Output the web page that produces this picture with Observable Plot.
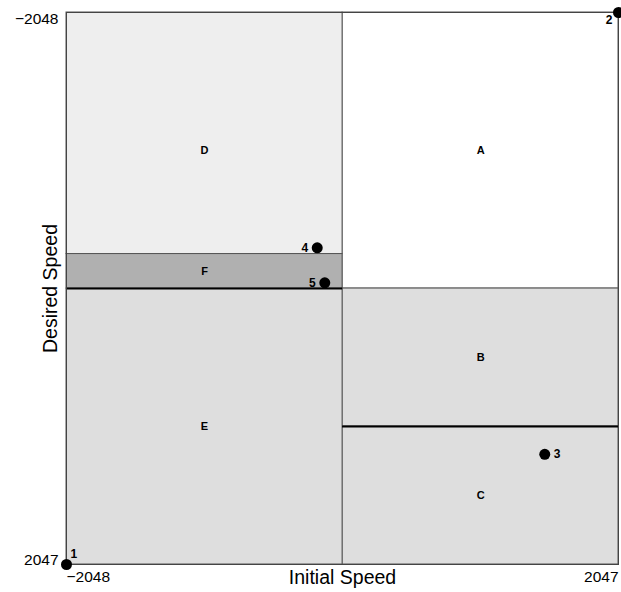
<!DOCTYPE html>
<html>
<head>
<meta charset="utf-8">
<script src="https://cdn.jsdelivr.net/npm/d3@7"></script>
<script src="https://cdn.jsdelivr.net/npm/@observablehq/plot@0.6"></script>
<style>
  html, body { margin: 0; padding: 0; background: #fff; }
</style>
</head>
<body>
<div id="chart"></div>
<script>
// Axis extents / tick labels
const xTicks = [-2048, 2047];
const yTicks = [-2048, 2047];

// Regions
const regionNames = ["A", "B", "C", "D", "E", "F"];
const regionX1 = [0, 0, 0, -2048, -2048, -2048];
const regionX2 = [2047, 2047, 2047, 0, 0, 0];
const regionY1 = [-2048, 0, 1024, -2048, 0, -256];
const regionY2 = [0, 1024, 2047, -256, 2047, 0];
const regionShade = ["none", "mid", "mid", "light", "mid", "dark"];
const regionLabelX = [1024, 1024, 1024, -1024, -1024, -1024];
const regionLabelY = [-1024, 512, 1536, -1024, 1024, -128];

// Heavy boundaries
const heavyY = [0, 1024];
const heavyX1 = [-2048, 0];
const heavyX2 = [0, 2047];

// Points
const pointIds = ["1", "2", "3", "4", "5"];
const pointX = [-2048, 2047, 1500, -188, -132];
const pointY = [2047, -2048, 1230, -302, -43];

const regions = regionNames.map((n, i) => ({
  name: n, x1: regionX1[i], x2: regionX2[i], y1: regionY1[i], y2: regionY2[i],
  shade: regionShade[i], lx: regionLabelX[i], ly: regionLabelY[i]
}));
const heavy = heavyY.map((y, i) => ({ y, x1: heavyX1[i], x2: heavyX2[i] }));
const points = pointIds.map((id, i) => ({ id, x: pointX[i], y: pointY[i] }));

const fmt = d => d < 0 ? "\u2212" + Math.abs(d) : String(d);
const font = "'Liberation Sans', Arial, Helvetica, sans-serif";

const chart = Plot.plot({
  width: 621,
  height: 592,
  marginLeft: 66,
  marginRight: 3,
  marginTop: 12,
  marginBottom: 28,
  style: { fontFamily: font, background: "#fff", color: "#000" },
  x: { domain: [-2048, 2047], axis: null },
  y: { domain: [-2048, 2047], reverse: true, axis: null },
  color: {
    domain: ["none", "mid", "light", "dark"],
    range: ["#ffffff", "#dedede", "#eeeeee", "#b0b0b0"]
  },
  marks: [
    Plot.rect(regions, { x1: "x1", x2: "x2", y1: "y1", y2: "y2", fill: "shade", stroke: "#555", strokeWidth: 1 }),
    Plot.ruleY(heavy, { y: "y", x1: "x1", x2: "x2", stroke: "#000", strokeWidth: 2 }),
    Plot.frame({ stroke: "#444", strokeWidth: 1 }),
    Plot.text(regions, { x: "lx", y: "ly", text: "name", fontSize: 11, fontWeight: "bold", fill: "#000" }),
    Plot.dot(points, { x: "x", y: "y", r: 5.5, fill: "#000" }),
    Plot.text(points.filter(p => p.id === "1"), { x: "x", y: "y", text: "id", dx: 4, dy: -10, textAnchor: "start", fontSize: 12, fontWeight: "bold" }),
    Plot.text(points.filter(p => p.id === "2"), { x: "x", y: "y", text: "id", dx: -6, dy: 8, textAnchor: "end", fontSize: 12, fontWeight: "bold" }),
    Plot.text(points.filter(p => p.id === "3"), { x: "x", y: "y", text: "id", dx: 9, textAnchor: "start", fontSize: 12, fontWeight: "bold" }),
    Plot.text(points.filter(p => p.id === "4" || p.id === "5"), { x: "x", y: "y", text: "id", dx: -9, textAnchor: "end", fontSize: 12, fontWeight: "bold" }),
    // x tick labels
    Plot.text([xTicks[0]], { x: d => d, text: fmt, frameAnchor: "bottom", dy: 17, textAnchor: "start", fontSize: 15.5 }),
    Plot.text([xTicks[1]], { x: d => d, text: fmt, frameAnchor: "bottom", dy: 17, textAnchor: "end", fontSize: 15.5 }),
    // y tick labels
    Plot.text([yTicks[0]], { y: d => d, text: fmt, frameAnchor: "left", dx: -8, textAnchor: "end", lineAnchor: "top", fontSize: 15.5 }),
    Plot.text([yTicks[1]], { y: d => d, text: fmt, frameAnchor: "left", dx: -8, textAnchor: "end", lineAnchor: "bottom", fontSize: 15.5 }),
    // axis titles
    Plot.text(["Initial Speed"], { text: d => d, frameAnchor: "bottom", dy: 19, textAnchor: "middle", fontSize: 19.5 }),
    Plot.text(["Desired Speed"], { text: d => d, frameAnchor: "left", dx: -16, rotate: -90, textAnchor: "middle", fontSize: 19.5 })
  ]
});
document.getElementById("chart").appendChild(chart);
</script>
</body>
</html>
